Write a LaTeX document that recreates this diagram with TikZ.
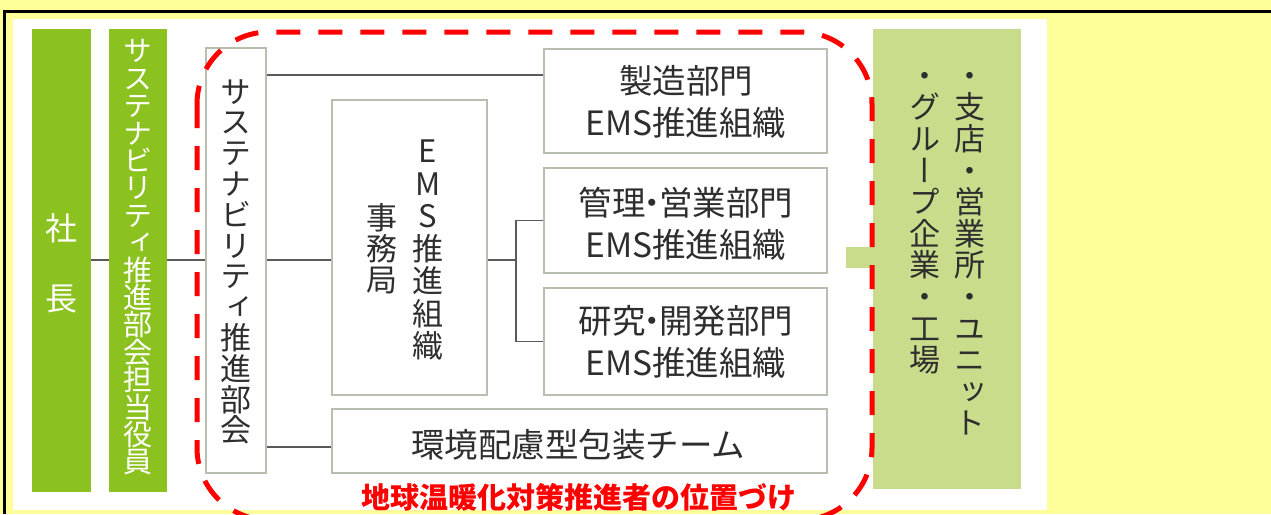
\documentclass[tikz,border=0pt]{standalone}
\usepackage{fontspec}
\setmainfont{Noto Sans CJK JP}
\newfontfamily\cjkh{Noto Sans CJK JP}
\newfontfamily\cjkv[RawFeature=+vert]{Noto Sans CJK JP}
\definecolor{bgyellow}{HTML}{FFFF99}
\definecolor{dkgreen}{HTML}{8CC21F}
\definecolor{ltgreen}{HTML}{C8DC8C}
\definecolor{boxline}{HTML}{B8BEB0}
\definecolor{conn}{HTML}{5A5A5A}
\definecolor{txtgray}{HTML}{2E2E2E}
\definecolor{redline}{HTML}{FF0000}
\tikzset{
  gbox/.style={fill=dkgreen, draw=none, inner sep=0pt},
  lbox/.style={fill=ltgreen, draw=none, inner sep=0pt},
  wbox/.style={fill=white, draw=boxline, line width=1.5pt, inner sep=0pt},
  vtxt/.style={inner sep=0pt, align=center, text=txtgray},
  htxt/.style={inner sep=0pt, align=center, text=txtgray, font=\cjkh\fontsize{33.5}{42}\selectfont},
  connector/.style={draw=conn, line width=1.8pt},
  redbox/.style={draw=redline, line width=5pt, dash pattern=on 24pt off 18pt, rounded corners=72pt}
}
\begin{document}
\begin{tikzpicture}[x=1pt,y=-1pt]
\useasboundingbox (0,0) rectangle (1271,514);
\clip (0,0) rectangle (1271,514);
% background
\fill[bgyellow] (0,0) rectangle (1271,514);
\fill[white] (13,19) rectangle (1047,510);
\draw[black, line width=3pt] (4.5,514) -- (4.5,11.5) -- (1271,11.5);

% boxes
\node[gbox, minimum width=59pt, minimum height=463pt] (shacho) at (61.5,260.5) {};
\node[gbox, minimum width=58pt, minimum height=463pt] (yakuin) at (138,260.5) {};
\node[wbox, minimum width=60pt, minimum height=425pt] (bukai) at (236,260.5) {};
\node[wbox, minimum width=155pt, minimum height=295pt] (ems) at (409.5,247.5) {};
\node[wbox, minimum width=283pt, minimum height=104pt] (seizo) at (685.5,101) {};
\node[wbox, minimum width=283pt, minimum height=105pt] (kanri) at (685.5,220.5) {};
\node[wbox, minimum width=283pt, minimum height=107pt] (kenkyu) at (685.5,341.5) {};
\node[wbox, minimum width=495pt, minimum height=64pt] (kankyo) at (579.5,441) {};
\node[lbox, minimum width=148pt, minimum height=460pt] (shiten) at (947,259) {};
\node[lbox, minimum width=27pt, minimum height=21pt, anchor=east] (tab) at (shiten.west |- 0,257.5) {};

% texts
\node[vtxt, text=white, font=\cjkv\fontsize{32}{70}\selectfont] (tshacho) at (61.5,263) {社\\長};
\node[vtxt, text=white, font=\cjkv\fontsize{29}{27.4}\selectfont] (tyakuin) at (138,257.5) {サ\\ス\\テ\\ナ\\ビ\\リ\\テ\\ィ\\推\\進\\部\\会\\担\\当\\役\\員};
\node[vtxt, font=\cjkv\fontsize{31}{30.8}\selectfont] (tbukai) at (236,262) {サ\\ス\\テ\\ナ\\ビ\\リ\\テ\\ィ\\推\\進\\部\\会};
\node[vtxt, font=\cjkv\fontsize{31}{32.5}\selectfont] (tems1) at (428,250) {E\\M\\S\\推\\進\\組\\織};
\node[vtxt, font=\cjkv\fontsize{31}{31}\selectfont] (tems2) at (382,249) {事\\務\\局};
\node[htxt] (tseizo) at (686,102) {製造部門\\EMS推進組織};
\node[htxt] (tkanri) at (686,223.5) {管理\kern-.3em・\kern-.3em営業部門\\EMS推進組織};
\node[htxt] (tkenkyu) at (686,341.5) {研究\kern-.3em・\kern-.3em開発部門\\EMS推進組織};
\node[htxt] (tkankyo) at (578,445) {環境配慮型包装チーム};
\node[vtxt, anchor=north, font=\cjkv\fontsize{31}{31.6}\selectfont] (tshiten) at (970,72) {・\\支\\店\\・\\営\\業\\所\\・\\ユ\\ニ\\ッ\\ト};
\node[vtxt, anchor=north, font=\cjkv\fontsize{31}{31.6}\selectfont] (tgroup) at (925,72) {・\\グ\\ル\\ー\\プ\\企\\業\\・\\工\\場};

% connectors
\coordinate (bus) at (0,260);
\draw[connector] (shacho.east |- bus) -- (yakuin.west |- bus);
\draw[connector] (yakuin.east |- bus) -- (bukai.west |- bus);
\draw[connector] (bukai.east |- bus) -- (ems.west |- bus);
\draw[connector] (bukai.east |- 0,75) -- (seizo.west |- 0,75);
\draw[connector] (bukai.east |- 0,447) -- (kankyo.west |- 0,447);
\draw[connector] (ems.east |- bus) -- ++(28,0) coordinate (br);
\draw[connector] (kanri.west) -| (br) |- (kenkyu.west);

% red dashed frame and label
\draw[redbox] (197,32) rectangle (872,520);
\node[inner sep=0pt, text=redline, font=\cjkh\bfseries\fontsize{29}{29}\selectfont] (label) at (578.5,497) {地球温暖化対策推進者の位置づけ};
\end{tikzpicture}
\end{document}
